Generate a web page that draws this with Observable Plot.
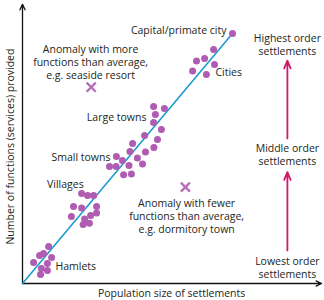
<!DOCTYPE html>
<html>
<head>
<meta charset="utf-8">
<script src="https://cdn.jsdelivr.net/npm/d3@7"></script>
<script src="https://cdn.jsdelivr.net/npm/@observablehq/plot@0.6"></script>
<style>
  html, body { margin: 0; padding: 0; background: #fff; }
  svg { display: block; }
</style>
</head>
<body>
<div id="chart"></div>
<script>
// Settlements: population size (x) vs number of functions (y), arbitrary units 0–100
const groups = ["Hamlet","Hamlet","Hamlet","Hamlet","Hamlet","Hamlet","Hamlet","Hamlet","Hamlet",
  "Village","Village","Village","Village","Village","Village","Village","Village","Village","Village","Village","Village",
  "Small town","Small town","Small town","Small town","Small town","Small town","Small town","Small town","Small town","Small town","Small town","Small town",
  "Large town","Large town","Large town","Large town","Large town","Large town","Large town","Large town",
  "City","City","City","City","City","City","Capital"];
const population = [8.7,7.0,5.7,9.7,3.7,8.3,6.3,8.3,6.0,
  19.7,21.7,23.7,17.0,19.7,24.7,16.3,22.7,24.7,20.7,22.3,20.2,
  29.0,31.2,31.3,33.3,35.5,33.7,36.3,35.8,38.3,40.0,41.0,36.7,
  40.7,45.0,43.8,43.7,47.3,44.3,43.7,46.3,
  63.7,60.7,58.0,64.0,56.7,61.3,70.0];
const functions = [13.2,10.7,10.0,9.3,7.5,7.1,5.4,4.6,3.2,
  32.1,31.4,31.4,27.5,27.0,27.5,23.9,24.3,25.2,23.0,21.5,21.1,
  41.8,41.8,45.4,43.9,42.1,38.8,39.1,47.1,44.8,42.7,47.0,50.0,
  52.9,51.4,48.6,63.2,62.5,60.4,57.5,55.0,
  83.6,80.4,79.5,78.2,75.9,74.6,89.3];

const anomalyPopulation = [22.9, 54.3];
const anomalyFunctions = [70.1, 34.4];

const trendPopulation = [0, 70];
const trendFunctions = [0, 89.3];

// Annotation labels
const labelText = ["Capital/primate city","Cities","Large towns","Small towns","Villages","Hamlets"];
const labelX = [68, 64.3, 41.3, 29.3, 20.4, 11];
const labelY = [90.4, 75.4, 59.3, 44.8, 35.2, 6.1];
const labelAnchor = ["end","start","end","end","end","start"];

const anomalyText = ["Anomaly with more\nfunctions than average,\ne.g. seaside resort",
  "Anomaly with fewer\nfunctions than average,\ne.g. dormitory town"];
const anomalyTextX = [22.7, 54.7];
const anomalyTextY = [79.3, 24.3];

const orderText = ["Highest order\nsettlements","Middle order\nsettlements","Lowest order\nsettlements"];
const orderX = [88.3, 88.3, 88.3];
const orderY = [85.5, 46.25, 5.9];
const orderArrowFrom = [51.8, 11.8];
const orderArrowTo = [79.6, 39.8];

const points = population.map((p, i) => ({x: p, y: functions[i], g: groups[i]}));
const anomalies = anomalyPopulation.map((p, i) => ({x: p, y: anomalyFunctions[i]}));
const labels = labelText.map((t, i) => ({t, x: labelX[i], y: labelY[i], a: labelAnchor[i]}));
const anomalyLabels = anomalyText.map((t, i) => ({t, x: anomalyTextX[i], y: anomalyTextY[i]}));
const orders = orderText.map((t, i) => ({t, x: orderX[i], y: orderY[i]}));
const orderArrows = orderArrowFrom.map((f, i) => ({x: 88.3, y1: f, y2: orderArrowTo[i]}));

const font = "'Open Sans', 'Noto Sans', sans-serif";
const textColor = "#231f20";

const chart = Plot.plot({
  width: 324,
  height: 300,
  marginLeft: 22,
  marginRight: 2,
  marginTop: 3,
  marginBottom: 17,
  style: {fontFamily: font, background: "#fff", overflow: "visible"},
  x: {domain: [0, 100], axis: null},
  y: {domain: [0, 100], axis: null},
  marks: [
    // axes as arrows
    Plot.arrow([{x1: 0, y1: 0, x2: 0, y2: 99.7}], {x1: "x1", y1: "y1", x2: "x2", y2: "y2", stroke: "#111", strokeWidth: 1.3, headLength: 7, headAngle: 50}),
    Plot.arrow([{x1: 0, y1: 0, x2: 99.7, y2: 0}], {x1: "x1", y1: "y1", x2: "x2", y2: "y2", stroke: "#111", strokeWidth: 1.3, headLength: 7, headAngle: 50}),
    // trend line
    Plot.line(trendPopulation.map((p, i) => ({x: p, y: trendFunctions[i]})), {x: "x", y: "y", stroke: "#1b9ccf", strokeWidth: 1.6}),
    // settlements
    Plot.dot(points, {x: "x", y: "y", r: 3.5, fill: "#b05cb2", stroke: "none"}),
    // anomalies
    Plot.dot(anomalies, {x: "x", y: "y", symbol: "times", r: 4.2, stroke: "#b66fb8", strokeWidth: 2.4}),
    // order arrows
    Plot.arrow(orderArrows, {x1: "x", y1: "y1", x2: "x", y2: "y2", stroke: "#d2166b", strokeWidth: 1.8, headLength: 7, headAngle: 45}),
    // labels
    Plot.text(labels.filter(d => d.a === "start"), {x: "x", y: "y", text: "t", textAnchor: "start", fontSize: 10.5, fill: textColor}),
    Plot.text(labels.filter(d => d.a === "end"), {x: "x", y: "y", text: "t", textAnchor: "end", fontSize: 10.5, fill: textColor}),
    Plot.text(anomalyLabels, {x: "x", y: "y", text: "t", fontSize: 10.5, lineHeight: 1.25, fill: textColor}),
    Plot.text(orders, {x: "x", y: "y", text: "t", fontSize: 10.5, lineHeight: 1.25, fill: textColor}),
    // axis titles
    Plot.text(["Population size of settlements"], {x: 49.7, y: -3.7, text: d => d, fontSize: 10.5, fill: textColor}),
    Plot.text(["Number of functions (services) provided"], {x: -4, y: 48.9, text: d => d, rotate: -90, fontSize: 10.5, fill: textColor})
  ]
});
document.getElementById("chart").appendChild(chart);
</script>
</body>
</html>
